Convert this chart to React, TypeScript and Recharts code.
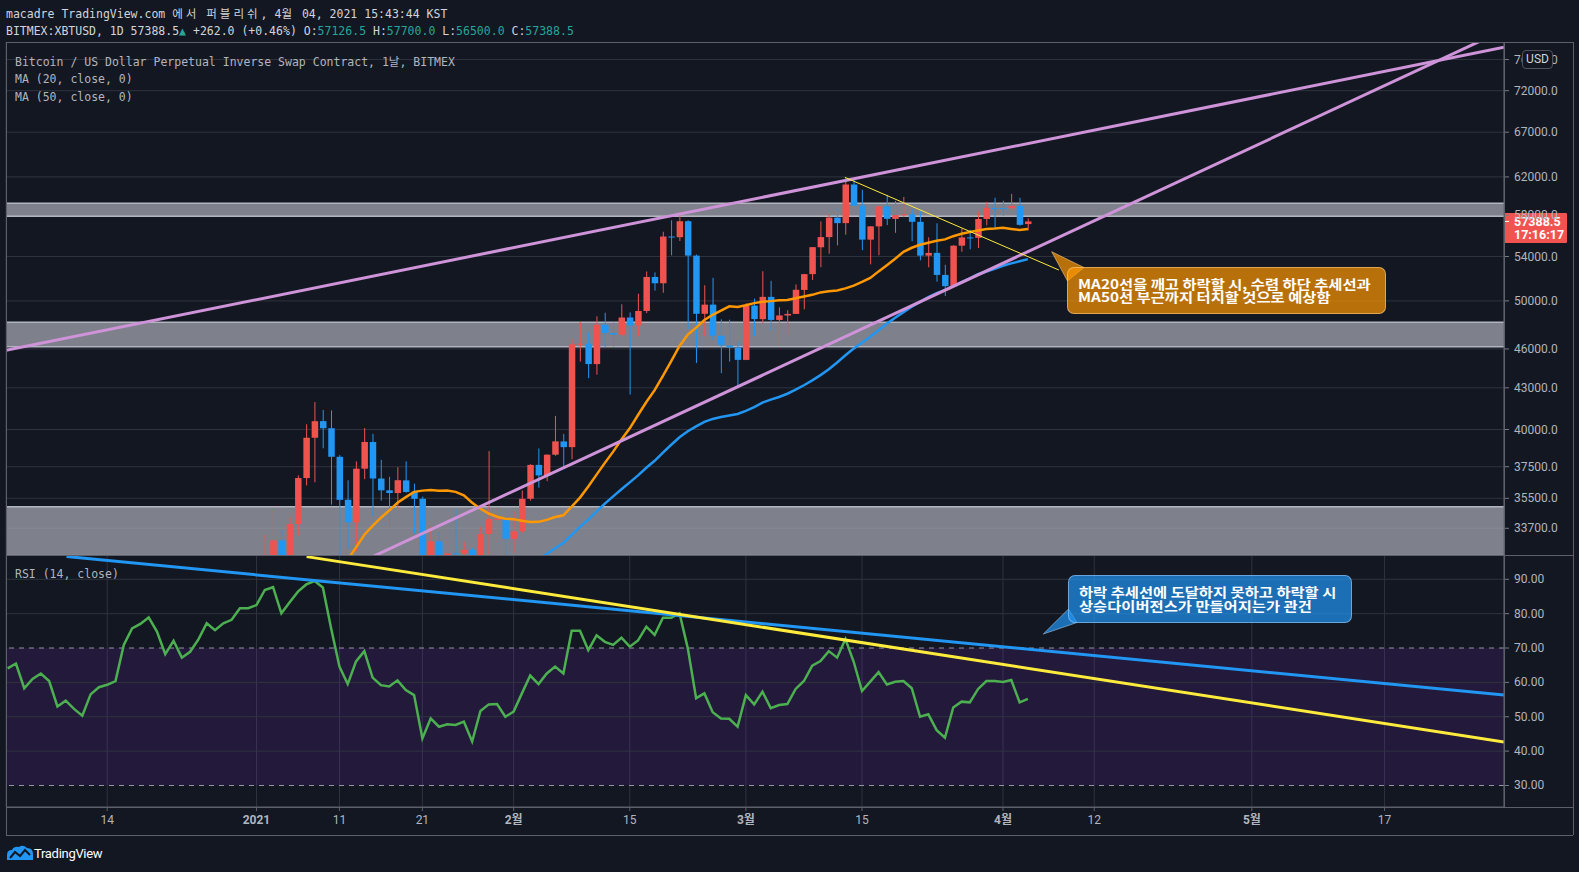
import React from 'react';
import {
  ComposedChart,
  Bar,
  Line,
  XAxis,
  YAxis,
  CartesianGrid,
  ReferenceLine,
  ReferenceArea,
} from 'recharts';

// ---------------- data (day index: 0 = 2021-01-01) ----------------
const FIRST_CANDLE_DAY = 0;
const OPEN = [
  28923, 29331, 32176, 33000, 31989, 33950, 36769, 39432, 40586, 40088,
  38150, 35410, 34050, 37372, 39141, 36738, 35995, 35824, 36622, 35901,
  35468, 30851, 32950, 32078, 32259, 32251, 32464, 30362, 33368, 34246,
  34262, 33092, 33517, 35472, 37620, 36936, 38289, 39181, 38795, 46374,
  46420, 44807, 47968, 47298, 47157, 48580, 47911, 49133, 52117, 51552,
  55906, 55841, 57412, 54088, 48891, 49676, 47073, 46276, 46103, 45134,
  49595, 48436, 50349, 48374, 48747, 48882, 50959, 52376, 54874, 55851,
  57773, 57222, 61188, 58976, 55605, 56901, 58913, 57641, 58030, 58101,
  57351, 54083, 54342, 52304, 51293, 55025, 55820, 55777, 57635, 58746,
  58739, 58720, 58950, 57126.5,
];
const HIGH = [
  29600, 33300, 34778, 33600, 34360, 36939, 40365, 41950, 41380, 41350,
  38264, 36628, 37850, 40100, 39700, 37950, 36852, 37469, 37850, 36415,
  35600, 33826, 33456, 32944, 34875, 32921, 32557, 33783, 38531, 34933,
  34342, 34717, 35984, 37662, 38708, 38310, 40955, 39700, 46794, 48200,
  47310, 48678, 48985, 48150, 49707, 49010, 50620, 52618, 52530, 56368,
  57505, 58352, 57508, 54183, 51374, 52041, 48424, 48395, 46638, 49790,
  50200, 52640, 51773, 49448, 49200, 51450, 52402, 54900, 57387, 58150,
  58081, 61844, 61724, 60633, 56938, 58974, 60100, 59468, 59880, 58600,
  58430, 55830, 57200, 53230, 55073, 56700, 56559, 58405, 59368, 59800,
  59490, 60200, 59791, 57700,
];
const LOW = [
  28624, 28946, 31962, 28130, 29900, 33288, 36300, 36500, 38720, 35111,
  30420, 32531, 32380, 36701, 34408, 35357, 33850, 34800, 35844, 33400,
  30071, 28850, 31390, 30900, 31910, 30837, 29241, 29842, 31915, 32825,
  32100, 32296, 33418, 35362, 36161, 36570, 38215, 37351, 37988, 45000,
  43727, 43994, 46125, 46202, 47014, 42500, 47000, 48947, 50900, 50710,
  54108, 55477, 47622, 44892, 47003, 46700, 44106, 45000, 43000, 45115,
  47047, 48100, 47500, 46300, 47070, 48882, 49274, 51845, 53005, 54270,
  55050, 56078, 59000, 54600, 53271, 54123, 57024, 56270, 57820, 55450,
  53650, 53000, 51700, 50427, 51225, 54450, 54677, 54800, 57000, 56769,
  57935, 58426, 56966, 56500,
];
const CLOSE = [
  29331, 32178, 33000, 31988, 33949, 36769, 39432, 40582, 40088, 38150,
  35404, 34051, 37371, 39144, 36742, 35994, 35828, 36631, 35891, 35468,
  30850, 32945, 32078, 32259, 32254, 32467, 30366, 33364, 34252, 34262,
  33092, 33526, 35466, 37618, 36936, 38290, 39186, 38795, 46374, 46420,
  44807, 47969, 47287, 47153, 48577, 47911, 49133, 52119, 51553, 55906,
  55841, 57408, 54087, 48891, 49676, 47073, 46276, 46106, 45135, 49587,
  48440, 50349, 48374, 48751, 48882, 50971, 52375, 54884, 55851, 57773,
  57221, 61188, 58968, 55605, 56900, 58912, 57648, 58030, 58102, 57351,
  54083, 54340, 52303, 51293, 55025, 55817, 55777, 57635, 58746, 58741,
  58720, 58950, 57051, 57388.5,
];

const MA20_START = 10;
const MA20 = [
  31380, 31921, 32603, 33325, 33837, 34323, 34760, 35222, 35573, 35900,
  35976, 36014, 35968, 35982, 35897, 35682, 35229, 34868, 34576, 34382,
  34266, 34240, 34145, 34069, 34079, 34194, 34362, 34470, 34994, 35542,
  36238, 36989, 37749, 38494, 39310, 40082, 41020, 41958, 42823, 43905,
  45042, 46236, 47167, 47731, 48368, 48807, 49162, 49528, 49466, 49624,
  49806, 49925, 49979, 50059, 50074, 50227, 50389, 50527, 50742, 50835,
  50904, 51093, 51337, 51673, 52034, 52626, 53195, 53791, 54439, 54827,
  55109, 55309, 55505, 55632, 55939, 56181, 56351, 56489, 56634, 56682,
  56757, 56645, 56549, 56638,
];

const MA50_START = 33;
const MA50 = [
  31611, 31923, 32233, 32555, 32854, 33312, 33786, 34206, 34701, 35172,
  35621, 36063, 36496, 36937, 37432, 37886, 38426, 38956, 39461, 39883,
  40221, 40536, 40742, 40879, 40989, 41090, 41319, 41580, 41906, 42126,
  42318, 42561, 42861, 43192, 43557, 43956, 44402, 44929, 45494, 46032,
  46499, 46992, 47521, 48067, 48560, 49037, 49499, 49919, 50335, 50672,
  50946, 51308, 51659, 51991, 52368, 52615, 52861, 53139, 53359, 53554,
  53759,
];

const RSI_START = -30;
const RSI = [
  64.1, 65.5, 58.3, 61.0, 62.6, 60.4, 53.0, 54.7, 52.3, 50.3,
  56.5, 58.6, 59.3, 60.4, 70.9, 75.7, 77.0, 78.9, 74.8, 68.2,
  72.1, 67.2, 68.9, 72.5, 77.2, 75.2, 77.2, 78.2, 81.6, 81.6,
  82.5, 86.9, 87.7, 80.1, 83.3, 86.4, 88.5, 89.5, 87.6, 75.7,
  64.6, 59.5, 66.1, 69.1, 61.4, 59.2, 58.8, 60.6, 57.8, 56.3,
  43.7, 49.5, 47.1, 47.8, 47.6, 48.6, 42.8, 51.7, 53.6, 53.7,
  50.0, 51.5, 56.8, 62.0, 59.5, 62.6, 64.6, 62.6, 75.0, 75.0,
  69.4, 73.7, 71.8, 70.9, 73.0, 70.4, 72.2, 76.2, 73.8, 78.8,
  78.8, 80.1, 69.9, 55.4, 56.8, 51.3, 49.5, 49.4, 47.1, 56.3,
  53.6, 57.3, 52.5, 53.4, 53.7, 58.1, 60.4, 64.9, 66.2, 69.1,
  67.2, 72.6, 66.0, 57.5, 60.2, 63.0, 59.4, 60.2, 60.4, 58.3,
  50.0, 50.7, 46.1, 43.9, 52.7, 54.4, 54.2, 58.1, 60.4, 60.4,
  60.1, 60.7, 54.2, 55.2,
];

const X_TICKS = [-18, 0, 10, 20, 31, 45, 59, 73, 90, 101, 120, 136];
const X_LABELS = ['14', '2021', '11', '21', '2월', '15', '3월', '15', '4월', '12', '5월', '17'];
const BOLD_LABELS = ['2021', '2월', '3월', '4월', '5월'];
const PRICE_TICKS = [33700, 35500, 37500, 40000, 43000, 46000, 50000, 54000, 58000, 62000, 67000, 72000, 76000];
const RSI_TICKS = [30, 40, 50, 60, 70, 80, 90];
const RSI_GRID = [40, 50, 60, 80, 90];
const X_DOMAIN: [number, number] = [-30.2, 150.4];
const PRICE_DOMAIN: [number, number] = [32174, 78348];
const RSI_DOMAIN: [number, number] = [23.74, 97.07];
const LAST_PRICE = 57388.5;

// zones [low, high]
const ZONE_LOWS = [57900, 46180, 30000];
const ZONE_HIGHS = [59220, 48175, 34986];

// drawings in the price pane: [day, price] pairs
const PRICE_SEGMENTS = [
  { from: [-30.2, 45886], to: [150.4, 77645], color: '#ce93d8', width: 3 },
  { from: [10, 31234], to: [150.4, 79990], color: '#ce93d8', width: 3 },
  { from: [70.93, 61955], to: [96.73, 52753], color: '#ffeb3b', width: 1 },
];
// drawings in the RSI pane
const RSI_SEGMENTS = [
  { from: [-22.9, 96.6], to: [150.4, 56.34], color: '#2196f3', width: 3 },
  { from: [6.04, 96.6], to: [150.4, 42.66], color: '#ffeb3b', width: 3 },
];

// ---------------- styling ----------------
const W = 1579;
const H = 872;
const PLOT_L = 6;
const PLOT_R = 1504;
const FRAME_R = 1573;
const PRICE_TOP = 42;
const PRICE_BOTTOM = 555;
const RSI_BOTTOM = 807;
const AXIS_BOTTOM = 835;
const BG = '#131722';
const GRID = '#2f333e';
const TEXT = '#b2b5be';
const FRAME = '#5d606b';
const UP = '#ef5350';
const DOWN = '#2196f3';
const SANS = "Roboto, 'Noto Sans CJK KR', sans-serif";
const MONO = "'DejaVu Sans Mono', 'Noto Sans CJK KR', monospace";
const KR = "'Noto Sans CJK KR', 'Noto Sans', sans-serif";
const BODY_W = 6.5;

const priceData = OPEN.map((o, i) => {
  const d = FIRST_CANDLE_DAY + i;
  return {
    d,
    open: o,
    high: HIGH[i],
    low: LOW[i],
    close: CLOSE[i],
    range: [LOW[i], HIGH[i]],
    ma20: d >= MA20_START ? MA20[d - MA20_START] : null,
    ma50: d >= MA50_START ? MA50[d - MA50_START] : null,
  };
});

const rsiData = RSI.map((v, i) => ({ d: RSI_START + i, rsi: v }));

function Candle(props: any) {
  const { x, y, width, height, payload, value } = props;
  if (x == null || y == null || !payload) return null;
  const vals = Array.isArray(value) ? value : [payload.low, payload.high];
  const lo = vals[0];
  const hi = vals[1];
  const cx = x + width / 2;
  const lh = Math.log(hi);
  const ll = Math.log(lo);
  const span = lh - ll;
  const py = (v: number) => (span > 0 ? y + (height * (lh - Math.log(v))) / span : y);
  const up = payload.close >= payload.open;
  const color = up ? UP : DOWN;
  const top = py(Math.max(payload.open, payload.close));
  const bot = py(Math.min(payload.open, payload.close));
  return (
    <g>
      <line x1={cx} x2={cx} y1={py(payload.high)} y2={py(payload.low)} stroke={color} strokeWidth={1} />
      <rect x={cx - BODY_W / 2} y={top} width={BODY_W} height={Math.max(1, bot - top)} fill={color} />
    </g>
  );
}

function PriceTick(props: any) {
  const { x, y, payload } = props;
  return (
    <text x={x} y={y} dy={4} fill={TEXT} fontSize={12} fontFamily={SANS}>
      {Number(payload.value).toFixed(1)}
    </text>
  );
}

function RsiTick(props: any) {
  const { x, y, payload } = props;
  return (
    <text x={x} y={y} dy={4} fill={TEXT} fontSize={12} fontFamily={SANS}>
      {Number(payload.value).toFixed(2)}
    </text>
  );
}

function XTick(props: any) {
  const { x, y, payload } = props;
  const i = X_TICKS.indexOf(payload.value);
  const label = i >= 0 ? X_LABELS[i] : '';
  const bold = BOLD_LABELS.indexOf(label) >= 0;
  return (
    <text x={x} y={y} dy={11} textAnchor="middle" fill={TEXT} fontSize={12} fontFamily={SANS} fontWeight={bold ? 700 : 400}>
      {label}
    </text>
  );
}

function PriceTag(props: any) {
  const vb = props.viewBox || {};
  const x0 = (vb.x || 0) + (vb.width || 0);
  const y0 = vb.y || 0;
  return (
    <g>
      <rect x={x0} y={y0 - 8.5} width={63} height={30} fill="#f05350" rx={1} />
      <line x1={x0} x2={x0 + 5} y1={y0} y2={y0} stroke="#ffffff" strokeWidth={1} />
      <text x={x0 + 10} y={y0 + 4.5} fill="#ffffff" fontSize={12.5} fontWeight={700} fontFamily={SANS}>
        {LAST_PRICE.toFixed(1)}
      </text>
      <text x={x0 + 10} y={y0 + 18} fill="#ffffff" fontSize={12.5} fontWeight={700} fontFamily={SANS}>
        17:16:17
      </text>
    </g>
  );
}

const KO: React.CSSProperties = { letterSpacing: 3 };

function Header() {
  const teal = '#26a69a';
  const white = '#d1d4dc';
  return (
    <div style={{ position: 'absolute', left: 6, top: 6, fontFamily: MONO, fontSize: 11.5, color: white, lineHeight: '17px', whiteSpace: 'pre' }}>
      <div>
        macadre TradingView.com <span style={KO}>에서</span> <span style={KO}>퍼블리쉬</span>, 4<span style={KO}>월</span> 04, 2021 15:43:44 KST
      </div>
      <div>
        BITMEX:XBTUSD, 1D 57388.5<span style={{ color: teal }}>▲</span> +262.0 (+0.46%) O:
        <span style={{ color: teal }}>57126.5</span> H:<span style={{ color: teal }}>57700.0</span> L:
        <span style={{ color: teal }}>56500.0</span> C:<span style={{ color: teal }}>57388.5</span>
      </div>
    </div>
  );
}

function Legend() {
  return (
    <div style={{ position: 'absolute', left: 15, top: 54, fontFamily: MONO, fontSize: 11.5, color: TEXT, lineHeight: '17.3px', whiteSpace: 'pre' }}>
      <div>Bitcoin / US Dollar Perpetual Inverse Swap Contract, 1날, BITMEX</div>
      <div>MA (20, close, 0)</div>
      <div>MA (50, close, 0)</div>
    </div>
  );
}

function Callout(props: {
  left: number;
  top: number;
  width: number;
  height: number;
  fill: string;
  border: string;
  tip: number[][];
  lines: string[];
  padL: number;
  firstCenter: number;
}) {
  const { left, top, width, height, fill, border, tip, lines, padL, firstCenter } = props;
  const pitch = 13.4;
  return (
    <>
      <svg style={{ position: 'absolute', left: 0, top: 0, pointerEvents: 'none' }} width={W} height={H}>
        <polygon points={tip.map((p) => p.join(',')).join(' ')} fill={fill} stroke={border} strokeWidth={1} />
      </svg>
      <div
        style={{
          position: 'absolute',
          left,
          top,
          width,
          height,
          boxSizing: 'border-box',
          background: fill,
          border: `1px solid ${border}`,
          borderRadius: 7,
        }}
      />
      {lines.map((l, i) => (
        <div
          key={i}
          style={{
            position: 'absolute',
            left: left + padL,
            top: firstCenter + i * pitch - 6.5,
            height: 13,
            color: '#ffffff',
            fontFamily: KR,
            fontWeight: 700,
            fontSize: 13,
            lineHeight: '13px',
            whiteSpace: 'pre',
            transform: 'scaleX(1.18)',
            transformOrigin: 'left center',
          }}
        >
          {l}
        </div>
      ))}
    </>
  );
}

function Logo() {
  return (
    <div style={{ position: 'absolute', left: 6, top: 845 }}>
      <svg width={28} height={17} style={{ position: 'absolute', left: 0, top: 0 }}>
        <path d="M1 15 L1 10 Q1 5 6 5 Q8 1 13 2 Q17 -1 21 3 Q27 3 27 9 L27 15 Z" fill="#2196f3" />
        <polyline points="4,13 9,7 14,11 19,5 24,10" fill="none" stroke="#131722" strokeWidth={2} />
      </svg>
      <div style={{ position: 'absolute', left: 28, top: 0, color: '#ffffff', fontFamily: SANS, fontSize: 13, lineHeight: '17px', letterSpacing: -0.3 }}>
        TradingView
      </div>
    </div>
  );
}

function Frame() {
  return (
    <svg style={{ position: 'absolute', left: 0, top: 0, pointerEvents: 'none' }} width={W} height={H}>
      <g stroke={FRAME} strokeWidth={1} shapeRendering="crispEdges">
        <line x1={PLOT_L} x2={FRAME_R} y1={PRICE_TOP} y2={PRICE_TOP} />
        <line x1={PLOT_L} x2={FRAME_R} y1={PRICE_BOTTOM} y2={PRICE_BOTTOM} />
        <line x1={PLOT_L} x2={FRAME_R} y1={RSI_BOTTOM} y2={RSI_BOTTOM} />
        <line x1={PLOT_L} x2={FRAME_R} y1={AXIS_BOTTOM} y2={AXIS_BOTTOM} />
        <line x1={PLOT_L} x2={PLOT_L} y1={PRICE_TOP} y2={AXIS_BOTTOM} />
        <line x1={FRAME_R} x2={FRAME_R} y1={PRICE_TOP} y2={AXIS_BOTTOM} />
        <line x1={PLOT_R} x2={PLOT_R} y1={PRICE_TOP} y2={RSI_BOTTOM} />
      </g>
    </svg>
  );
}

export default function App() {
  return (
    <div style={{ position: 'absolute', left: 0, top: 0, width: W, height: H, background: BG, overflow: 'hidden' }}>
      {/* price pane */}
      <div style={{ position: 'absolute', left: 0, top: PRICE_TOP }}>
        <ComposedChart width={W} height={PRICE_BOTTOM - PRICE_TOP} data={priceData} margin={{ top: 0, right: 0, bottom: 0, left: PLOT_L }}>
          <CartesianGrid stroke={GRID} />
          <XAxis
            dataKey="d"
            type="number"
            domain={X_DOMAIN}
            allowDataOverflow
            ticks={X_TICKS}
            interval={0}
            height={0}
            tick={false}
            axisLine={false}
            tickLine={false}
          />
          <YAxis
            orientation="right"
            scale="log"
            domain={PRICE_DOMAIN}
            allowDataOverflow
            ticks={PRICE_TICKS}
            interval={0}
            width={W - PLOT_R}
            tick={<PriceTick />}
            tickSize={5}
            tickMargin={5}
            tickLine={{ stroke: '#787b86' }}
            axisLine={{ stroke: FRAME }}
          />
          <Line dataKey="ma50" stroke="#2196f3" strokeWidth={2.5} dot={false} isAnimationActive={false} />
          <Line dataKey="ma20" stroke="#ff9800" strokeWidth={2.5} dot={false} isAnimationActive={false} />
          {ZONE_LOWS.map((lo, i) => (
            <ReferenceArea
              key={'z' + i}
              x1={-40}
              x2={160}
              y1={lo}
              y2={ZONE_HIGHS[i]}
              fill="#a3a6af"
              fillOpacity={0.75}
              stroke="#b2b5be"
              strokeWidth={1.5}
              ifOverflow="hidden"
            />
          ))}
          <Bar dataKey="range" barSize={7} shape={<Candle />} isAnimationActive={false} />
          {PRICE_SEGMENTS.map((s, i) => (
            <ReferenceLine
              key={'p' + i}
              segment={[
                { x: s.from[0], y: s.from[1] },
                { x: s.to[0], y: s.to[1] },
              ]}
              stroke={s.color}
              strokeWidth={s.width}
              ifOverflow="hidden"
            />
          ))}
          <ReferenceLine y={LAST_PRICE} stroke="none" ifOverflow="visible" label={(p: any) => <PriceTag {...p} />} />
        </ComposedChart>
      </div>

      {/* RSI pane */}
      <div style={{ position: 'absolute', left: 0, top: PRICE_BOTTOM }}>
        <ComposedChart width={W} height={AXIS_BOTTOM - PRICE_BOTTOM} data={rsiData} margin={{ top: 0, right: 0, bottom: 0, left: PLOT_L }}>
          <CartesianGrid stroke={GRID} horizontal={false} />
          <ReferenceArea y1={30} y2={70} fill="#7a2ad0" fillOpacity={0.15} stroke="none" />
          {RSI_GRID.map((v) => (
            <ReferenceLine key={'g' + v} y={v} stroke={GRID} />
          ))}
          <ReferenceLine y={70} stroke="#9598a1" strokeDasharray="5 5" />
          <ReferenceLine y={30} stroke="#9598a1" strokeDasharray="5 5" />
          <XAxis
            dataKey="d"
            type="number"
            domain={X_DOMAIN}
            allowDataOverflow
            ticks={X_TICKS}
            interval={0}
            height={AXIS_BOTTOM - RSI_BOTTOM}
            tick={<XTick />}
            tickSize={4}
            tickMargin={2}
            tickLine={{ stroke: FRAME }}
            axisLine={{ stroke: FRAME }}
          />
          <YAxis
            orientation="right"
            domain={RSI_DOMAIN}
            allowDataOverflow
            ticks={RSI_TICKS}
            interval={0}
            width={W - PLOT_R}
            tick={<RsiTick />}
            tickSize={5}
            tickMargin={5}
            tickLine={{ stroke: '#787b86' }}
            axisLine={{ stroke: FRAME }}
          />
          <Line dataKey="rsi" stroke="#4caf50" strokeWidth={2.5} dot={false} isAnimationActive={false} />
          {RSI_SEGMENTS.map((s, i) => (
            <ReferenceLine
              key={'r' + i}
              segment={[
                { x: s.from[0], y: s.from[1] },
                { x: s.to[0], y: s.to[1] },
              ]}
              stroke={s.color}
              strokeWidth={s.width}
              ifOverflow="hidden"
            />
          ))}
        </ComposedChart>
      </div>

      <Frame />
      <Header />
      <Legend />
      <div style={{ position: 'absolute', left: 15, top: 566, fontFamily: MONO, fontSize: 11.5, color: TEXT, lineHeight: '17px', whiteSpace: 'pre' }}>
        RSI (14, close)
      </div>

      {/* currency badge on price scale */}
      <div
        style={{
          position: 'absolute',
          left: 1522,
          top: 50,
          width: 31,
          height: 19,
          boxSizing: 'border-box',
          background: BG,
          border: '1px solid #50535e',
          borderRadius: 4,
          color: '#d1d4dc',
          fontFamily: SANS,
          fontSize: 12,
          lineHeight: '17px',
          textAlign: 'center',
        }}
      >
        USD
      </div>

      <Callout
        left={1067}
        top={267}
        width={319}
        height={47}
        fill="rgba(255,152,0,0.7)"
        border="rgba(255,210,140,0.55)"
        tip={[
          [1051.7, 251.7],
          [1084, 267.5],
          [1067.5, 281],
        ]}
        lines={['MA20선을 깨고 하락할 시, 수렴 하단 추세선과', 'MA50선 부근까지 터치할 것으로 예상함']}
        padL={10.5}
        firstCenter={283.3}
      />
      <Callout
        left={1068}
        top={575}
        width={284}
        height={48}
        fill="rgba(33,150,243,0.7)"
        border="rgba(170,210,250,0.55)"
        tip={[
          [1043.3, 634],
          [1068.5, 609],
          [1077, 622.5],
        ]}
        lines={['하락 추세선에 도달하지 못하고 하락할 시', '상승다이버전스가 만들어지는가 관건']}
        padL={11}
        firstCenter={591.7}
      />
      <Logo />
    </div>
  );
}
